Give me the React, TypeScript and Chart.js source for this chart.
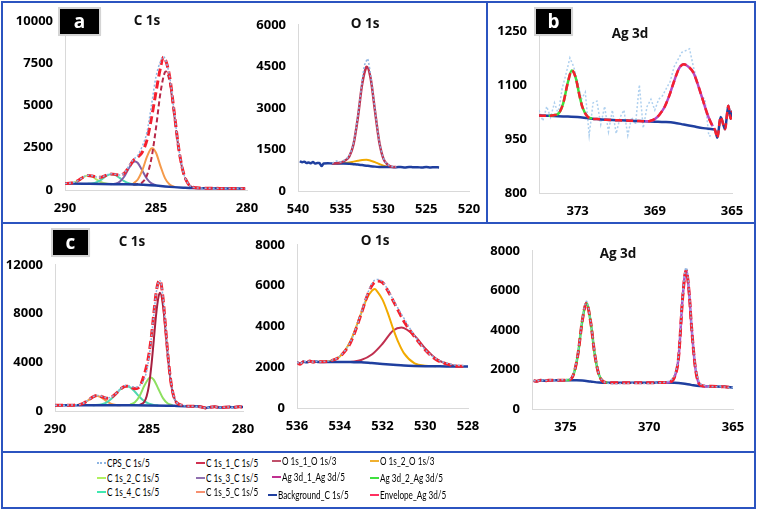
import React, { useEffect, useRef } from "react";
import { Chart, registerables } from "chart.js";
Chart.register(...registerables);

// ---------- colours ----------
const C_CPS = "#8db4e2";
const C_ENV = "#f5202e";
const C_BG = "#1f3f9f";
const C_C1 = "#b82848";
const C_C2 = "#b4e36a";
const C_C3 = "#7f5fa8";
const C_C4 = "#4fd8b0";
const C_C5 = "#f59a4a";
const C_O1 = "#c0304f";
const C_O2 = "#f2aa00";
const C_AG1 = "#b748c0";
const C_AG2 = "#3ce03c";

// ---------- panel a : C 1s ----------
const aC_x = [290, 289.75, 289.5, 289.25, 289, 288.75, 288.5, 288.25, 288, 287.75, 287.5, 287.25, 287, 286.75, 286.5, 286.25, 286, 285.75, 285.5, 285.25, 285, 284.75, 284.6, 284.5, 284.25, 284, 283.75, 283.5, 283.25, 283, 282.5, 282, 281.5, 281, 280.5, 280.1];
const aC_env = [383, 396, 448, 575, 753, 863, 830, 760, 760, 860, 944, 924, 870, 980, 1340, 1750, 1950, 2250, 2950, 4250, 5800, 7250, 7850, 7750, 6700, 4600, 2450, 1050, 400, 175, 113, 100, 95, 90, 85, 80];
const aC_cps = [390, 400, 460, 580, 760, 870, 840, 770, 770, 880, 960, 930, 880, 1000, 1400, 1800, 2050, 2600, 3400, 5000, 6700, 7600, 7880, 7750, 6700, 4600, 2450, 1050, 400, 175, 113, 100, 95, 90, 85, 80];
const aC_bg_x = [290, 289, 288, 287, 286, 285.5, 285, 284.5, 284, 283.5, 283, 282, 281, 280.1];
const aC_bg = [380, 370, 360, 340, 320, 300, 260, 210, 170, 140, 115, 100, 90, 80];
const aC_c1_x = [286.25, 286, 285.75, 285.5, 285.25, 285, 284.75, 284.5, 284.45, 284.25, 284, 283.75, 283.5, 283.25, 283, 282.5];
const aC_c1 = [310, 350, 455, 860, 1870, 3670, 5780, 6970, 7000, 6400, 4460, 2400, 1020, 385, 172, 108];
const aC_c5_x = [286.25, 286, 285.75, 285.5, 285.25, 285.2, 285, 284.75, 284.5, 284.25, 284];
const aC_c5 = [380, 620, 1170, 1960, 2460, 2470, 2200, 1400, 685, 320, 195];
const aC_c3_x = [287.5, 287.25, 287, 286.75, 286.5, 286.25, 286.15, 286, 285.75, 285.5, 285.25, 285];
const aC_c3 = [345, 370, 480, 780, 1265, 1655, 1690, 1595, 1140, 665, 390, 282];
const aC_c4_x = [288.75, 288.5, 288.25, 288, 287.75, 287.5, 287.25, 287, 286.75, 286.5, 286.25, 286];
const aC_c4 = [368, 390, 468, 618, 812, 933, 892, 717, 525, 400, 344, 322];
const aC_c2_x = [290, 289.75, 289.5, 289.25, 289, 288.75, 288.5, 288.25, 288, 287.75, 287.5];
const aC_c2 = [383, 396, 448, 575, 753, 855, 786, 608, 457, 381, 350];

// ---------- panel a : O 1s ----------
const aO_bg_x = [539.8, 539.5, 539.25, 539, 538.75, 538.5, 538.25, 538, 537.75, 537.5, 537.25, 537, 536.5, 536, 535, 534, 533.5, 533, 532.5, 532, 531.5, 531, 530.5, 530, 529, 528.5, 528, 527.5, 527, 526.5, 526, 525.5, 525, 524.5, 524, 523.5];
const aO_bg = [1070, 1040, 1060, 1010, 1030, 1000, 1050, 990, 1010, 1010, 900, 990, 1000, 995, 990, 985, 970, 955, 935, 915, 895, 880, 870, 865, 862, 860, 865, 850, 870, 855, 860, 845, 870, 850, 860, 850];
const aO_o1_x = [536, 535.5, 535, 534.5, 534, 533.5, 533, 532.5, 532, 531.95, 531.5, 531, 530.5, 530, 529.5, 529, 528.5];
const aO_o1 = [995, 1000, 1030, 1100, 1250, 1700, 2650, 3850, 4480, 4490, 4060, 2900, 1780, 1160, 950, 870, 862];
const aO_o2_x = [535.5, 535, 534.5, 534, 533.5, 533, 532.5, 532, 531.5, 531, 530.5, 530, 529.5, 529];
const aO_o2 = [995, 1000, 1010, 1030, 1060, 1090, 1120, 1125, 1095, 1040, 975, 915, 875, 862];
const aO_cps_x = [536, 535.5, 535, 534.5, 534, 533.5, 533, 532.5, 532.25, 532, 531.9, 531.75, 531.5, 531, 530.5, 530, 529.5, 529, 528.5];
const aO_cps = [1000, 1080, 1050, 1130, 1280, 1750, 2700, 3950, 4500, 4700, 4780, 4650, 4150, 2950, 1800, 1180, 960, 880, 870];

// ---------- panel b : Ag 3d ----------
const b_bg_x = [375, 374.5, 374, 373.5, 373, 372.5, 372, 371.5, 371, 370.5, 370, 369.5, 369, 368.5, 368, 367.5, 367, 366.5, 366.2, 366, 365.88, 365.76, 365.59, 365.36, 365.19, 365.07, 365];
const b_bg = [1015, 1014, 1013, 1012, 1011, 1008, 1005, 1003, 1002, 1001, 1000, 999, 998, 997, 995, 990, 985, 980, 978, 977, 975, 953, 1011, 977, 1042, 1006, 1028];
const b_g_x = [374.5, 374.25, 374, 373.75, 373.5, 373.3, 373.1, 372.9, 372.75, 372.5, 372.25];
const b_g = [1014, 1016, 1020, 1048, 1108, 1140, 1120, 1070, 1038, 1013, 1006];
const b_m_x = [369.5, 369.25, 369, 368.75, 368.5, 368.25, 368, 367.75, 367.5, 367.25, 367, 366.75, 366.5, 366.25, 366];
const b_m = [999, 1000, 1005, 1018, 1038, 1070, 1110, 1145, 1157, 1150, 1134, 1098, 1056, 1015, 985];
const b_env_x = [375, 374.5, 374.25, 374, 373.75, 373.5, 373.3, 373.1, 372.9, 372.75, 372.5, 372.25, 372, 371.5, 371, 370.5, 370, 369.5, 369.25, 369, 368.75, 368.5, 368.25, 368, 367.75, 367.5, 367.25, 367, 366.75, 366.5, 366.25, 366, 365.88, 365.76, 365.59, 365.36, 365.19, 365.07, 365];
const b_env = [1015, 1014, 1016, 1020, 1048, 1108, 1140, 1120, 1070, 1038, 1013, 1006, 1005, 1003, 1002, 1001, 1000, 999, 1000, 1005, 1018, 1038, 1070, 1110, 1145, 1157, 1150, 1134, 1098, 1056, 1015, 985, 975, 953, 1011, 977, 1042, 1006, 1028];
const b_cps_x = [375, 374.8, 374.6, 374.4, 374.2, 374, 373.8, 373.6, 373.4, 373.2, 373, 372.8, 372.6, 372.4, 372.2, 372, 371.8, 371.6, 371.4, 371.2, 371, 370.8, 370.6, 370.4, 370.2, 370, 369.8, 369.6, 369.4, 369.2, 369, 368.8, 368.6, 368.4, 368.2, 368, 367.8, 367.6, 367.4, 367.2, 367, 366.8, 366.6, 366.4, 366.2, 366];
const b_cps = [1030, 1000, 1040, 1010, 1050, 1020, 1090, 1130, 1175, 1150, 1110, 1060, 1080, 960, 1050, 1055, 990, 1040, 970, 1030, 965, 1010, 1030, 960, 1010, 990, 1100, 980, 1040, 1060, 1030, 1060, 1070, 1090, 1110, 1150, 1170, 1190, 1195, 1200, 1150, 1110, 1070, 1060, 958, 960];

// ---------- panel c : C 1s ----------
const cC_x = [290, 289.5, 289, 288.75, 288.5, 288.25, 288, 287.75, 287.5, 287.25, 287, 286.75, 286.5, 286.25, 286, 285.75, 285.5, 285.25, 285.125, 285, 284.875, 284.75, 284.625, 284.5, 284.41, 284.25, 284.125, 284, 283.875, 283.75, 283.625, 283.5, 283.25, 283, 282.5, 282.2, 282, 281.8, 281.5, 281.2, 281, 280.7, 280.5, 280.2, 280];
const cC_env = [470, 472, 480, 512, 624, 862, 1143, 1276, 1171, 1041, 1123, 1439, 1815, 2040, 1987, 1831, 2000, 3000, 3700, 4700, 6100, 7900, 9650, 10600, 10700, 9200, 7000, 4700, 2860, 1615, 930, 640, 480, 400, 380, 330, 250, 300, 340, 280, 310, 330, 300, 340, 330];
const cC_cps = [470, 480, 500, 520, 640, 880, 1150, 1280, 1200, 1080, 1150, 1450, 1830, 2100, 2050, 1950, 2100, 2600, 3300, 4400, 6000, 7800, 9600, 10550, 10700, 9250, 7050, 4750, 2900, 1650, 950, 650, 480, 400, 380, 330, 250, 300, 340, 280, 310, 330, 300, 340, 330];
const cC_bg_x = [290, 289, 288, 287, 286, 285, 284, 283.5, 283, 282.5, 282.2, 282, 281.8, 281.5, 281.2, 281, 280.7, 280.5, 280.2, 280];
const cC_bg = [470, 470, 468, 466, 464, 460, 440, 420, 400, 380, 330, 250, 300, 340, 280, 310, 330, 300, 340, 330];
const cC_c1_x = [285.5, 285.25, 285.125, 285, 284.875, 284.75, 284.625, 284.5, 284.41, 284.25, 284.125, 284, 283.875, 283.75, 283.625, 283.5, 283.25];
const cC_c1 = [500, 750, 1210, 2130, 3700, 5730, 7850, 9330, 9700, 8590, 6650, 4530, 2780, 1580, 930, 640, 480];
const cC_c2_x = [286, 285.75, 285.5, 285.25, 285, 284.9, 284.75, 284.5, 284.25, 284, 283.75];
const cC_c2 = [520, 715, 1237, 2070, 2700, 2750, 2575, 1810, 1035, 613, 470];
const cC_c4_x = [288, 287.5, 287.25, 287, 286.75, 286.5, 286.2, 286, 285.75, 285.5, 285.25, 285, 284.75, 284.5];
const cC_c4 = [475, 562, 717, 1006, 1410, 1815, 2030, 1932, 1578, 1152, 806, 601, 502, 460];
const cC_c5_x = [289, 288.75, 288.5, 288.25, 288, 287.78, 287.5, 287.25, 287, 286.75, 286.5];
const cC_c5 = [478, 512, 624, 860, 1138, 1250, 1077, 791, 583, 494, 466];

// ---------- panel c : O 1s ----------
const cO_bg_x = [536, 535.85, 535.7, 535.55, 535.4, 535.25, 535.1, 535, 534.5, 534, 533.5, 533, 532.5, 532, 531.5, 531, 530.5, 530, 529.5, 529, 528.5, 528];
const cO_bg = [2230, 2180, 2270, 2240, 2290, 2250, 2280, 2260, 2260, 2260, 2250, 2240, 2200, 2160, 2120, 2080, 2060, 2050, 2045, 2040, 2040, 2040];
const cO_o2_x = [535, 534.5, 534, 533.5, 533, 532.75, 532.5, 532.36, 532.25, 532, 531.75, 531.5, 531.25, 531, 530.5, 530, 529.5];
const cO_o2 = [2262, 2300, 2520, 3280, 4640, 5330, 5740, 5830, 5720, 5310, 4650, 3880, 3200, 2690, 2190, 2070, 2050];
const cO_o1_x = [533.5, 533, 532.5, 532, 531.5, 531.11, 530.5, 530, 529.5, 529, 528.5];
const cO_o1 = [2260, 2350, 2620, 3150, 3800, 3950, 3540, 2920, 2420, 2160, 2050];
const cO_env_x = [536, 535.85, 535.7, 535.55, 535.4, 535.25, 535.1, 535, 534.5, 534, 533.5, 533, 532.75, 532.5, 532.25, 532, 531.75, 531.5, 531.25, 531, 530.5, 530, 529.5, 529, 528.5, 528.2];
const cO_env = [2230, 2150, 2270, 2240, 2300, 2250, 2280, 2262, 2300, 2520, 3200, 4600, 5400, 6000, 6220, 6150, 5750, 5250, 4750, 4250, 3500, 2850, 2380, 2160, 2050, 2040];
const cO_cps = [2240, 2170, 2280, 2260, 2310, 2250, 2290, 2270, 2310, 2540, 3250, 4650, 5450, 6100, 6300, 6200, 5800, 5300, 4850, 4400, 3550, 2850, 2420, 2200, 2100, 2080];

// ---------- panel c : Ag 3d ----------
const cA_bg_x = [376.9, 376.7, 376.5, 376.2, 376, 375.5, 375, 374.5, 374, 373.5, 373, 372.5, 372, 371, 370, 369.5, 369, 368.5, 368, 367.5, 367, 366.5, 366, 365.5, 365];
const cA_bg = [1430, 1400, 1460, 1430, 1450, 1460, 1460, 1450, 1440, 1390, 1340, 1330, 1330, 1330, 1330, 1335, 1340, 1330, 1290, 1220, 1160, 1150, 1140, 1120, 1080];
const cA_g_x = [375, 374.75, 374.5, 374.25, 374, 373.75, 373.5, 373.25, 373, 372.75, 372.5];
const cA_g = [1460, 1480, 1800, 2810, 4450, 5350, 4410, 2740, 1720, 1390, 1335];
const cA_m_x = [369.25, 369, 368.75, 368.5, 368.25, 368, 367.8, 367.6, 367.5, 367.25, 367, 366.75, 366.5];
const cA_m = [1337, 1345, 1370, 1600, 2600, 5700, 7020, 5690, 4430, 2100, 1250, 1160, 1150];
const cA_env_x = [376.9, 376.7, 376.5, 376.2, 376, 375.5, 375, 374.75, 374.5, 374.25, 374, 373.75, 373.5, 373.25, 373, 372.75, 372.5, 372, 371, 370, 369.5, 369.25, 369, 368.75, 368.5, 368.25, 368, 367.8, 367.6, 367.5, 367.25, 367, 366.75, 366.5, 366, 365.5, 365];
const cA_env = [1430, 1400, 1460, 1430, 1450, 1460, 1460, 1480, 1800, 2810, 4450, 5350, 4410, 2740, 1720, 1390, 1335, 1330, 1330, 1330, 1335, 1337, 1345, 1370, 1600, 2600, 5700, 7020, 5690, 4430, 2100, 1250, 1160, 1150, 1140, 1120, 1080];
const cA_cps = [1440, 1410, 1470, 1440, 1460, 1470, 1480, 1520, 1850, 2850, 4500, 5450, 4450, 2800, 1750, 1420, 1300, 1280, 1300, 1290, 1320, 1340, 1360, 1450, 1700, 2700, 5800, 7150, 5800, 4500, 2200, 1350, 1200, 1160, 1130, 1110, 1070];

// ---------- axis ticks ----------
const aC_xt = [280, 285, 290];
const aO_xt = [520, 525, 530, 535, 540];
const b_xt = [365, 369, 373];
const cC_xt = [280, 285, 290];
const cO_xt = [528, 530, 532, 534, 536];
const cA_xt = [365, 370, 375];

type S = { x: number[]; y: number[]; color: string; w: number; dash?: number[]; smooth?: boolean };
type P = {
  left: number; top: number; right: number; bottom: number;
  xMin: number; xMax: number; xTicks: number[];
  yMin: number; yMax: number; yStep: number;
  series: S[];
};

const YW = 52, PT = 12, PR = 22, XH = 32;
const tickFont = { family: "'Open Sans', 'DejaVu Sans', sans-serif", size: 13, weight: "bold" as const };
const dotted = [2, 2];
const envDash = [8, 4];

function PanelChart({ p }: { p: P }) {
  const ref = useRef<HTMLCanvasElement>(null);
  const w = p.right - p.left + YW + PR;
  const h = p.bottom - p.top + PT + XH;
  useEffect(() => {
    const chart = new Chart(ref.current as HTMLCanvasElement, {
      type: "line",
      data: {
        datasets: p.series.map((s) => ({
          data: s.x.map((x, i) => ({ x, y: s.y[i] })),
          borderColor: s.color,
          borderWidth: s.w,
          borderDash: s.dash || [],
          pointRadius: 0,
          fill: false,
          tension: s.smooth === false ? 0 : 0.4,
          cubicInterpolationMode: s.smooth === false ? "default" : "monotone",
        })) as any,
      },
      options: {
        animation: false,
        responsive: false,
        maintainAspectRatio: false,
        events: [],
        plugins: { legend: { display: false }, tooltip: { enabled: false }, title: { display: false } },
        layout: { padding: { top: PT, right: PR, left: 0, bottom: 0 } },
        scales: {
          x: {
            type: "linear",
            reverse: true,
            min: p.xMin,
            max: p.xMax,
            grid: { display: false, drawTicks: false },
            border: { display: true, color: "#d9d9d9", width: 1 },
            afterBuildTicks: (s: any) => {
              s.ticks = p.xTicks.map((v) => ({ value: v }));
            },
            afterFit: (s: any) => {
              s.height = XH;
            },
            ticks: {
              font: tickFont, color: "#000", padding: 10, maxRotation: 0, autoSkip: false,
              callback: (v: any) => String(v),
            },
          },
          y: {
            type: "linear",
            min: p.yMin,
            max: p.yMax,
            grid: { display: false, drawTicks: false },
            border: { display: true, color: "#d9d9d9", width: 1 },
            afterFit: (s: any) => {
              s.width = YW;
            },
            ticks: { font: tickFont, color: "#000", padding: 12, stepSize: p.yStep, callback: (v: any) => String(v) },
          },
        },
      } as any,
    });
    return () => chart.destroy();
  }, []);
  return (
    <canvas
      ref={ref}
      width={w}
      height={h}
      style={{ position: "absolute", left: p.left - YW, top: p.top - PT, width: w, height: h }}
    />
  );
}

const panels: P[] = [
  {
    left: 65, top: 13, right: 247, bottom: 190, xMin: 280, xMax: 290, xTicks: aC_xt, yMin: 0, yMax: 10000, yStep: 2500,
    series: [
      { x: aC_x, y: aC_cps, color: C_CPS, w: 1.5, dash: dotted },
      { x: aC_x, y: aC_env, color: C_ENV, w: 3, dash: envDash },
      { x: aC_bg_x, y: aC_bg, color: C_BG, w: 2.5 },
      { x: aC_c1_x, y: aC_c1, color: C_C1, w: 2, dash: [5, 3] },
      { x: aC_c5_x, y: aC_c5, color: C_C5, w: 2 },
      { x: aC_c3_x, y: aC_c3, color: C_C3, w: 2 },
      { x: aC_c4_x, y: aC_c4, color: C_C4, w: 2 },
      { x: aC_c2_x, y: aC_c2, color: C_C2, w: 2 },
    ],
  },
  {
    left: 298, top: 17, right: 469, bottom: 191, xMin: 520, xMax: 540, xTicks: aO_xt, yMin: 0, yMax: 6000, yStep: 1500,
    series: [
      { x: aO_cps_x, y: aO_cps, color: C_CPS, w: 1.5, dash: dotted },
      { x: aO_o1_x, y: aO_o1, color: C_O1, w: 2.5 },
      { x: aO_bg_x, y: aO_bg, color: C_BG, w: 2.5 },
      { x: aO_o2_x, y: aO_o2, color: C_O2, w: 2 },
    ],
  },
  {
    left: 539, top: 23, right: 732, bottom: 193, xMin: 365, xMax: 375, xTicks: b_xt, yMin: 800, yMax: 1250, yStep: 150,
    series: [
      { x: b_env_x, y: b_env, color: C_ENV, w: 2.5, dash: [7, 4] },
      { x: b_g_x, y: b_g, color: C_AG2, w: 2.5 },
      { x: b_m_x, y: b_m, color: C_AG1, w: 2.5 },
      { x: b_bg_x, y: b_bg, color: C_BG, w: 2.5 },
      { x: b_cps_x, y: b_cps, color: "#aed0ef", w: 1.5, dash: dotted, smooth: false },
    ],
  },
  {
    left: 55, top: 257, right: 243, bottom: 411, xMin: 280, xMax: 290, xTicks: cC_xt, yMin: 0, yMax: 12000, yStep: 4000,
    series: [
      { x: cC_x, y: cC_cps, color: C_CPS, w: 1.5, dash: dotted },
      { x: cC_x, y: cC_env, color: C_ENV, w: 3, dash: envDash },
      { x: cC_bg_x, y: cC_bg, color: C_BG, w: 2.5 },
      { x: cC_c1_x, y: cC_c1, color: "#a82040", w: 2 },
      { x: cC_c2_x, y: cC_c2, color: "#8ee060", w: 2 },
      { x: cC_c4_x, y: cC_c4, color: C_C4, w: 2 },
      { x: cC_c5_x, y: cC_c5, color: C_C5, w: 2 },
    ],
  },
  {
    left: 297, top: 237, right: 468, bottom: 408, xMin: 528, xMax: 536, xTicks: cO_xt, yMin: 0, yMax: 8000, yStep: 2000,
    series: [
      { x: cO_env_x, y: cO_cps, color: C_CPS, w: 1.5, dash: dotted },
      { x: cO_env_x, y: cO_env, color: C_ENV, w: 3, dash: envDash },
      { x: cO_bg_x, y: cO_bg, color: C_BG, w: 2.5 },
      { x: cO_o2_x, y: cO_o2, color: C_O2, w: 2 },
      { x: cO_o1_x, y: cO_o1, color: C_O1, w: 2 },
    ],
  },
  {
    left: 532, top: 243, right: 733, bottom: 409, xMin: 365, xMax: 377, xTicks: cA_xt, yMin: 0, yMax: 8000, yStep: 2000,
    series: [
      { x: cA_env_x, y: cA_cps, color: C_CPS, w: 1.5, dash: dotted },
      { x: cA_env_x, y: cA_env, color: C_ENV, w: 3, dash: envDash },
      { x: cA_g_x, y: cA_g, color: C_AG2, w: 2.5 },
      { x: cA_m_x, y: cA_m, color: C_AG1, w: 2.5 },
      { x: cA_bg_x, y: cA_bg, color: C_BG, w: 2.5 },
    ],
  },
];

const titles = [
  { t: "C 1s", x: 147, y: 20 },
  { t: "O 1s", x: 365, y: 23 },
  { t: "Ag 3d", x: 630, y: 33 },
  { t: "C 1s", x: 132, y: 241 },
  { t: "O 1s", x: 375, y: 240 },
  { t: "Ag 3d", x: 618, y: 253 },
];

const letters = [
  { t: "a", x: 60, y: 9, w: 39, h: 25 },
  { t: "b", x: 536, y: 9, w: 35, h: 25 },
  { t: "c", x: 53, y: 230, w: 35, h: 25 },
];

type L = { t: string; x: number; y: number; color: string; style: string };
const legendItems: L[] = [
  { t: "CPS_C 1s/5", x: 97, y: 463, color: C_CPS, style: "dotted" },
  { t: "C 1s_1_C 1s/5", x: 196, y: 463, color: "#d03050", style: "dashed" },
  { t: "O 1s_1_O 1s/3", x: 272, y: 461, color: "#c0506a", style: "solid" },
  { t: "O 1s_2_O 1s/3", x: 370, y: 461, color: "#f0b030", style: "solid" },
  { t: "C 1s_2_C 1s/5", x: 97, y: 478, color: "#b0f060", style: "solid" },
  { t: "C 1s_3_C 1s/5", x: 196, y: 478, color: "#9070b0", style: "solid" },
  { t: "Ag 3d_1_Ag 3d/5", x: 272, y: 477, color: "#c03090", style: "solid" },
  { t: "Ag 3d_2_Ag 3d/5", x: 370, y: 478, color: "#40e040", style: "solid" },
  { t: "C 1s_4_C 1s/5", x: 97, y: 492, color: "#40e8b0", style: "solid" },
  { t: "C 1s_5_C 1s/5", x: 196, y: 492, color: "#f79070", style: "solid" },
  { t: "Background_C 1s/5", x: 268, y: 495, color: C_BG, style: "solid" },
  { t: "Envelope_Ag 3d/5", x: 370, y: 495, color: "#ff3060", style: "dashed" },
];

const BLUE = "#2b54c0";

export default function App() {
  return (
    <div style={{ position: "absolute", left: 0, top: 0, width: 757, height: 511, background: "#fff", overflow: "hidden" }}>
      {/* frames */}
      <div style={{ position: "absolute", left: 1, top: 1, width: 751, height: 504, border: `2px solid ${BLUE}`, boxSizing: "content-box" }} />
      <div style={{ position: "absolute", left: 1, top: 222, width: 753, height: 2, background: BLUE }} />
      <div style={{ position: "absolute", left: 486, top: 1, width: 2, height: 222, background: BLUE }} />
      <div style={{ position: "absolute", left: 1, top: 451, width: 753, height: 2, background: BLUE }} />

      {panels.map((p, i) => (
        <PanelChart key={i} p={p} />
      ))}

      {titles.map((t, i) => (
        <div
          key={i}
          style={{
            position: "absolute", left: t.x, top: t.y, transform: "translate(-50%, -50%)",
            fontFamily: "'Open Sans', sans-serif", fontWeight: 700, fontSize: 13.5, color: "#111", whiteSpace: "nowrap",
          }}
        >
          {t.t}
        </div>
      ))}

      {letters.map((l, i) => (
        <div
          key={i}
          style={{
            position: "absolute", left: l.x, top: l.y, width: l.w, height: l.h, background: "#000",
            outline: "2px solid #d4d4d4", color: "#fff", fontFamily: "'Open Sans', sans-serif", fontWeight: 700,
            fontSize: 19, lineHeight: `${l.h}px`, textAlign: "center", boxShadow: "1px 1px 2px rgba(0,0,0,0.25)",
          }}
        >
          {l.t}
        </div>
      ))}

      {legendItems.map((l, i) => (
        <React.Fragment key={i}>
          <div
            style={{
              position: "absolute", left: l.x, top: l.y - 1, width: 9, height: 0,
              borderTop: `2px ${l.style} ${l.color}`,
            }}
          />
          <div
            style={{
              position: "absolute", left: l.x + 10, top: l.y - 8, height: 16, lineHeight: "16px",
              fontFamily: "Lato, 'Open Sans', sans-serif", fontSize: 12, color: "#000", whiteSpace: "nowrap",
              transform: "scaleX(0.68)", transformOrigin: "left center",
            }}
          >
            {l.t}
          </div>
        </React.Fragment>
      ))}
    </div>
  );
}
